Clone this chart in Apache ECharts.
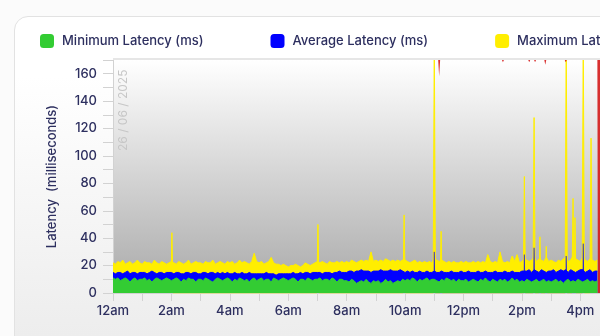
<!DOCTYPE html>
<html>
<head>
<meta charset="utf-8">
<script src="https://cdn.jsdelivr.net/npm/echarts@6/dist/echarts.min.js"></script>
<style>
  html, body { margin: 0; padding: 0; width: 600px; height: 336px; overflow: hidden; background: #fbfbfb; }
  #card {
    position: absolute; left: 14px; top: 16px; width: 900px; height: 400px;
    border: 1px solid #e2e2e2; border-radius: 14px; box-sizing: border-box;
    background: linear-gradient(#ffffff, #ffffff 15%, #ededed 80%);
  }
  #chart { position: absolute; left: 0; top: 0; width: 840px; height: 336px; }
</style>
</head>
<body>
<div id="card"></div>
<div id="chart"></div>
<script>
// Latency samples every 5 minutes from midnight, 26/06/2025
const SAMPLE_MINUTES = 5;

const minLatency = [
  11,10,11,9,10,11,10,8,10,11,9,10,
  10,11,9,10,8,10,11,10,9,10,11,10,
  9,10,11,10,8,10,9,11,10,10,8,10,
  10,9,11,10,9,8,10,11,10,9,10,11,
  10,8,10,9,11,10,9,10,8,10,11,9,
  10,11,9,10,10,8,11,10,9,10,11,10,
  9,10,11,10,8,10,10,9,11,10,9,10,
  10,11,9,10,10,9,11,10,8,10,10,9,
  9,8,10,9,7,8,9,8,10,8,7,9,
  8,9,7,8,10,8,9,7,8,9,8,10,
  9,10,9,11,10,8,10,9,10,11,9,10,
  10,9,8,10,9,11,10,9,10,8,10,9,
  9,10,8,9,10,9,8,10,9,11,9,8,
  10,9,8,10,9,10,8,9,11,9,10,8,
  9,8,10,9,8,9,10,8,9,10,8,9,
  8,9,10,8,9,7,9,10,8,9,8,10,
  9,8,9,10,8,9,8,9
];

const avgLatency = [
  15,14,15,15,14,15,16,14,15,15,14,15,
  15,15,14,15,16,15,14,15,15,14,15,15,
  15,14,15,15,14,14,15,15,14,15,15,14,
  14,15,15,14,15,15,14,15,14,15,14,15,
  14,14,15,14,14,15,14,14,15,14,14,14,
  14,14,14,15,14,14,14,13,14,14,14,14,
  14,14,15,14,14,15,14,15,15,14,15,15,
  15,15,14,15,15,15,14,15,15,16,15,15,
  15,16,16,15,16,16,17,16,16,16,15,16,
  16,16,17,16,16,16,17,16,16,16,17,16,
  15,16,15,16,15,15,16,15,15,16,15,15,
  16,15,15,16,15,15,15,16,15,15,15,16,
  15,15,16,15,15,15,16,15,15,16,15,15,
  15,16,15,15,15,16,15,15,16,15,15,15,
  16,16,16,17,15,17,16,15,17,16,15,16,
  16,17,15,16,17,16,17,15,17,16,15,16,
  17,17,15,16,17,15,16,16
];

const maxLatency = [
  22,21,23,22,24,21,22,23,21,22,24,22,
  21,23,22,22,21,24,22,21,23,22,21,22,
  23,22,21,23,22,21,22,24,21,22,23,22,
  22,21,23,22,22,24,21,22,23,22,21,23,
  22,23,21,22,24,22,23,22,21,23,29,23,
  22,23,21,22,23,26,22,21,21,20,21,20,
  19,20,20,21,20,19,20,22,21,20,21,22,
  23,22,23,22,21,23,22,22,23,22,23,22,
  23,22,24,23,22,23,24,23,24,23,30,23,
  24,23,24,23,25,24,23,24,23,24,23,24,
  24,23,22,23,24,22,23,22,23,22,23,22,
  25,24,23,24,23,22,23,22,23,22,22,23,
  22,23,22,22,23,22,23,22,23,22,28,23,
  22,23,22,30,23,22,23,22,27,23,28,22,
  23,25,24,23,24,26,23,25,24,23,26,23,
  24,23,22,24,23,25,26,23,24,27,25,24,
  23,26,24,23,25,24,23,24
];

// Short bursts in maximum and average latency: minute of day, peak value
const maxSpikeMinutes = [121, 421, 598, 660, 674, 845, 865, 877, 890, 931, 945, 949, 966, 982];
const maxSpikeValues  = [ 44,  50,  57, 190,  45,  85, 128,  41,  34, 190,  69,  55, 190, 113];
const avgSpikeMinutes = [660, 845, 865, 931, 966];
const avgSpikeValues  = [ 30,  28,  33,  27,  36];

// Packet loss (%), minute of day and value
const lossMinutes = [0, 668, 670, 672, 799, 801, 803, 853, 855, 857, 865, 867, 869, 886, 888, 890, 928, 930, 932, 995, 996, 1002];
const lossValues  = [0,   0,   7,   0,   0,   1,   0,   0,   1,   0,   0,   1,   0,   0,   2,   0,   0,   1,   0,   0, 100, 100];

const yTicks = { min: 0, max: 170, step: 10, labelStep: 20 };

const seriesNames = ['Minimum Latency (ms)', 'Average Latency (ms)', 'Maximum Latency (ms)'];
const colors = { min: '#33cc33', avg: '#0000ff', max: '#ffee00', loss: '#d41a1a' };

const NAVY = '#2d2f5f';
const FONT = 'Inter, "Noto Sans", sans-serif';

function toPairs(values) {
  return values.map((v, i) => [i * SAMPLE_MINUTES, v]);
}

// each burst is a narrow peak rising from the baseline
function spikePairs(minutes, values, halfWidth) {
  const out = [];
  minutes.forEach((m, i) => {
    out.push([m - halfWidth, 0], [m, values[i]], [m + halfWidth, 0]);
  });
  return out;
}

function hourLabel(minutes) {
  const h = Math.round(minutes / 60) % 24;
  if (h === 0) return '12am';
  if (h < 12) return h + 'am';
  if (h === 12) return '12pm';
  return (h - 12) + 'pm';
}

// stacking order is fixed through z so each layer fully covers the one behind
function areaSeries(name, data, color, lineWidth, z) {
  return {
    name: name,
    type: 'line',
    z: z,
    data: data,
    showSymbol: false,
    symbol: 'none',
    lineStyle: { color: color, width: lineWidth },
    itemStyle: { color: color },
    areaStyle: { color: color, opacity: 1 },
    animation: false
  };
}

const chart = echarts.init(document.getElementById('chart'), null, { renderer: 'canvas' });

chart.setOption({
  animation: false,
  textStyle: { fontFamily: FONT },
  legend: {
    data: seriesNames,
    left: 40,
    top: 34,
    padding: 0,
    itemWidth: 14,
    itemHeight: 14,
    itemGap: 67,
    icon: 'roundRect',
    textStyle: { color: NAVY, fontSize: 13, fontWeight: 500, fontFamily: FONT, padding: [0, 0, 0, 3] }
  },
  grid: {
    left: 113,
    top: 60,
    right: 26,
    bottom: 43,
    show: true,
    borderWidth: 0,
    backgroundColor: {
      type: 'linear', x: 0, y: 0, x2: 0, y2: 1,
      colorStops: [
        { offset: 0, color: '#ffffff' },
        { offset: 1, color: '#a9a9a9' }
      ]
    }
  },
  xAxis: {
    type: 'value',
    min: 0,
    max: 1440,
    interval: 60,
    axisLine: { show: true, lineStyle: { color: '#d2d2d2', width: 1 } },
    axisTick: { show: true, length: 8, lineStyle: { color: '#d2d2d2' } },
    splitLine: { show: false },
    axisLabel: {
      color: NAVY,
      fontSize: 13,
      fontWeight: 500,
      fontFamily: FONT,
      margin: 12,
      formatter: v => (v % 120 === 0 ? hourLabel(v) : '')
    }
  },
  yAxis: [
    {
      type: 'value',
      min: yTicks.min,
      max: yTicks.max,
      interval: yTicks.step,
      name: 'Latency  (milliseconds)',
      nameLocation: 'middle',
      nameGap: 54,
      nameTextStyle: { color: NAVY, fontSize: 13, fontWeight: 500, fontFamily: FONT },
      axisLine: { show: true, lineStyle: { color: '#d2d2d2', width: 1 } },
      axisTick: { show: true, length: 10, lineStyle: { color: '#d2d2d2' } },
      splitLine: { show: false },
      axisLabel: {
        color: NAVY,
        fontSize: 13,
        fontWeight: 500,
        fontFamily: FONT,
        margin: 16,
        formatter: v => (v % yTicks.labelStep === 0 && v <= 160 ? String(v) : '')
      }
    },
    {
      type: 'value',
      min: 0,
      max: 100,
      inverse: true,
      show: false
    }
  ],
  series: [
    areaSeries(seriesNames[2], toPairs(maxLatency), colors.max, 1, 2),
    areaSeries(seriesNames[2], spikePairs(maxSpikeMinutes, maxSpikeValues, 2.4), colors.max, 1, 3),
    areaSeries(seriesNames[1], toPairs(avgLatency), colors.avg, 1, 4),
    areaSeries(seriesNames[1], spikePairs(avgSpikeMinutes, avgSpikeValues, 1.2), colors.avg, 0.5, 5),
    areaSeries(seriesNames[0], toPairs(minLatency), colors.min, 1, 6),
    {
      name: 'loss',
      type: 'line',
      z: 7,
      yAxisIndex: 1,
      data: lossMinutes.map((m, i) => [m, lossValues[i]]),
      showSymbol: false,
      symbol: 'none',
      lineStyle: { width: 0, color: colors.loss },
      areaStyle: { color: colors.loss, opacity: 0.9 },
      animation: false
    }
  ],
  graphic: [
    {
      type: 'rect',
      left: 113,
      top: 58,
      shape: { width: 727, height: 2 },
      style: { fill: '#e6e6e6' },
      z: 10
    },
    {
      type: 'text',
      x: 123,
      y: 151,
      rotation: Math.PI / 2,
      style: {
        text: '26 / 06 / 2025',
        fill: '#c6c6c6',
        font: '12px ' + FONT,
        textAlign: 'left',
        textVerticalAlign: 'middle'
      },
      z: 10
    }
  ]
});
</script>
</body>
</html>
